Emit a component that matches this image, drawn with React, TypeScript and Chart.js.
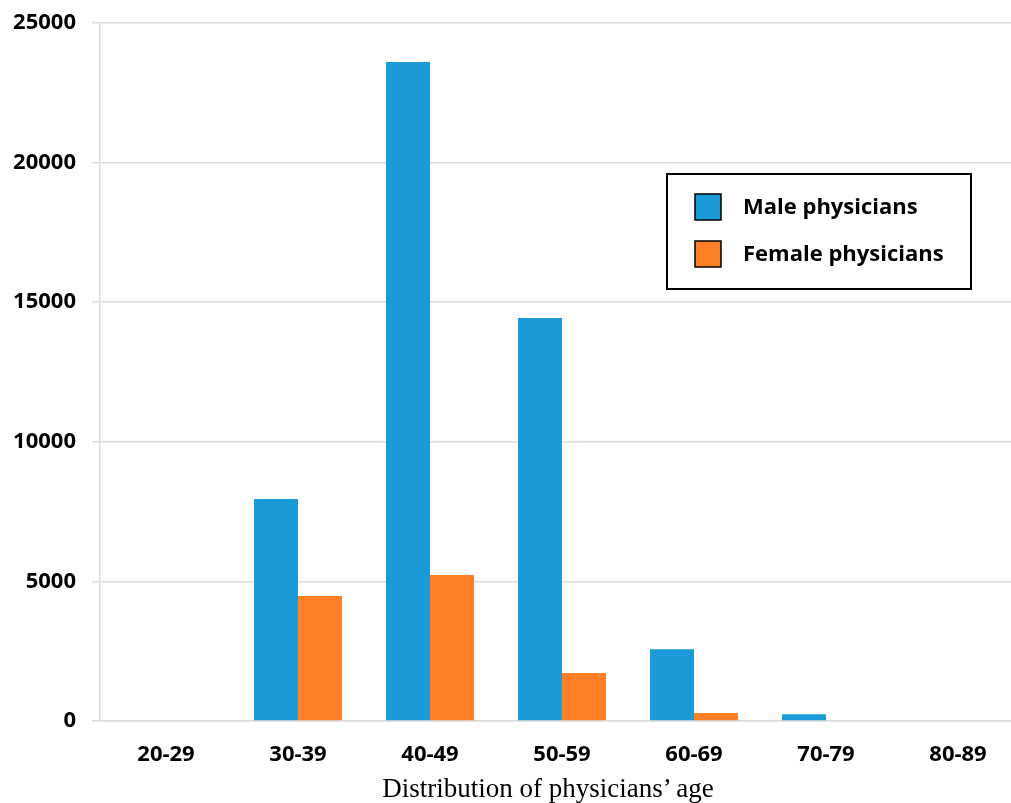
import React, { useEffect, useRef } from "react";
import { Chart, registerables } from "chart.js";

Chart.register(...registerables);

const ageGroups = ["20-29", "30-39", "40-49", "50-59", "60-69", "70-79", "80-89"];
const maleCounts = [0, 7950, 23600, 14430, 2570, 240, 0];
const femaleCounts = [0, 4480, 5230, 1720, 290, 0, 0];
const seriesNames = ["Male physicians", "Female physicians"];
const yTicks = [0, 5000, 10000, 15000, 20000, 25000];
const axisTitle = "Distribution of physicians\u2019 age";

const BLUE = "#1a9bd7";
const ORANGE = "#ff7f27";
const GRID = "#dcdcdc";
const TICK_FONT = { family: "'Open Sans', sans-serif", size: 22, weight: "bold" as const };

// Boxed legend drawn inside the plot area
const boxedLegend = {
  id: "boxedLegend",
  afterDraw(chart: any) {
    const ctx = chart.ctx as CanvasRenderingContext2D;
    const x0 = 667, y0 = 174, w = 304, h = 115;
    ctx.save();
    ctx.fillStyle = "#ffffff";
    ctx.fillRect(x0, y0, w, h);
    ctx.strokeStyle = "#000000";
    ctx.lineWidth = 2;
    ctx.strokeRect(x0, y0, w, h);
    ctx.font = "bold 22px 'Open Sans', sans-serif";
    ctx.textBaseline = "middle";
    ctx.textAlign = "left";
    chart.data.datasets.forEach((ds: any, i: number) => {
      const cy = y0 + 33 + i * 47;
      ctx.fillStyle = ds.backgroundColor;
      ctx.fillRect(695, cy - 13, 26, 26);
      ctx.lineWidth = 1.5;
      ctx.strokeStyle = "#000000";
      ctx.strokeRect(695, cy - 13, 26, 26);
      ctx.fillStyle = "#000000";
      ctx.fillText(ds.label, 743, cy + 1);
    });
    ctx.restore();
  },
};

export default function App() {
  const canvasRef = useRef<HTMLCanvasElement | null>(null);

  useEffect(() => {
    if (!canvasRef.current) return;
    const chart = new Chart(canvasRef.current, {
      type: "bar",
      data: {
        labels: ageGroups,
        datasets: [
          {
            label: seriesNames[0],
            data: maleCounts,
            backgroundColor: BLUE,
            borderWidth: 0,
          },
          {
            label: seriesNames[1],
            data: femaleCounts,
            backgroundColor: ORANGE,
            borderWidth: 0,
          },
        ],
      },
      options: {
        responsive: false,
        animation: false,
        layout: { padding: { top: 23, right: 0, bottom: 0, left: 0 } },
        plugins: {
          legend: { display: false },
          tooltip: { enabled: false },
        },
        datasets: {
          bar: { categoryPercentage: 0.667, barPercentage: 1.0 },
        },
        scales: {
          x: {
            grid: { display: false, drawTicks: false },
            border: { display: true, color: GRID, width: 1.5 },
            ticks: { color: "#000", font: TICK_FONT, padding: 21 },
            afterFit: (s: any) => {
              s.height = 82;
              s.paddingLeft = 0;
              s.paddingRight = 0;
            },
          },
          y: {
            min: 0,
            max: 25000,
            afterBuildTicks: (s: any) => {
              s.ticks = yTicks.map((v) => ({ value: v }));
            },
            grid: { color: GRID, lineWidth: 1.5, tickLength: 8 },
            border: { display: true, color: GRID, width: 1.5 },
            ticks: {
              color: "#000",
              font: TICK_FONT,
              padding: 16,
              callback: (v: any) => String(v),
            },
            afterFit: (s: any) => {
              s.width = 100;
              s.paddingTop = 0;
              s.paddingBottom = 0;
            },
          },
        },
      },
      plugins: [boxedLegend],
    });
    return () => chart.destroy();
  }, []);

  return (
    <div
      style={{
        position: "fixed",
        left: 0,
        top: 0,
        width: 1011,
        height: 803,
        overflow: "hidden",
        background: "#fff",
      }}
    >
      <canvas ref={canvasRef} width={1024} height={803} style={{ display: "block" }} />
      <div
        style={{
          position: "absolute",
          left: 548,
          top: 788,
          transform: "translate(-50%, -50%)",
          fontFamily: "'Liberation Serif', 'Times New Roman', serif",
          fontSize: 27,
          color: "#000",
          whiteSpace: "nowrap",
        }}
      >
        {axisTitle}
      </div>
    </div>
  );
}
